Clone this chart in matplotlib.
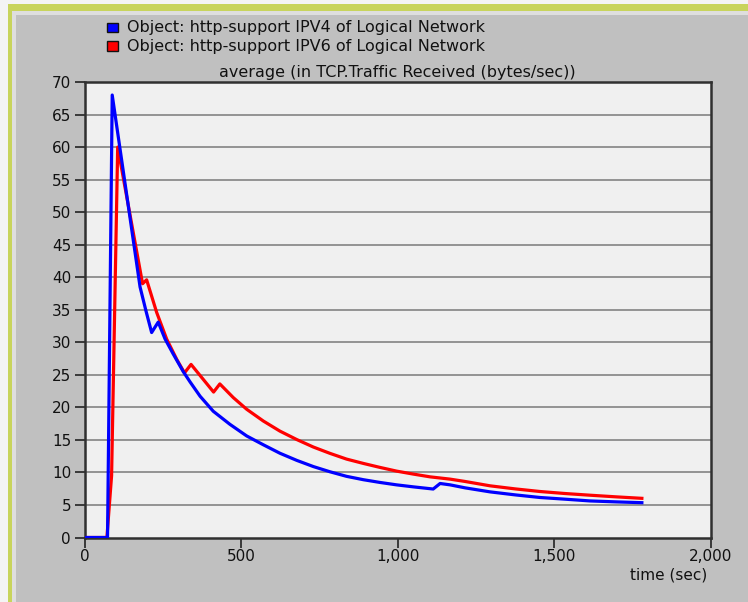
import matplotlib
matplotlib.use("Agg")
import matplotlib.pyplot as plt
from matplotlib.patches import Rectangle
from matplotlib.ticker import FuncFormatter

plt.rcParams['font.family'] = ['DejaVu Sans']

# ---- data ----
ipv4_time = [0, 72, 87, 176, 195, 213, 234, 256, 282, 314, 336, 368, 410, 463, 517,
             570, 623, 677, 730, 783, 836, 890, 943, 996, 1050, 1113, 1135, 1167,
             1215, 1295, 1375, 1454, 1534, 1614, 1700, 1780]
ipv4_value = [0, 0, 68, 38.5, 34.8, 31.5, 33.1, 30.5, 28.2, 25.5, 23.9, 21.7, 19.4, 17.4, 15.6,
              14.25, 12.95, 11.85, 10.9, 10.1, 9.4, 8.88, 8.46, 8.09, 7.78, 7.45, 8.3, 8.09,
              7.63, 7.01, 6.55, 6.15, 5.89, 5.62, 5.47, 5.35]

ipv6_time = [0, 70, 85, 104.5, 184, 197, 229, 261, 293, 318, 339, 411, 431, 474,
             517, 570, 623, 677, 730, 783, 836, 890, 943, 996, 1050, 1103, 1167,
             1215, 1295, 1375, 1454, 1534, 1614, 1700, 1780]
ipv6_value = [0, 0, 9.5, 60, 39.0, 39.6, 34.6, 30.5, 27.4, 25.3, 26.6, 22.35, 23.6, 21.5,
              19.7, 17.9, 16.35, 15.05, 13.9, 12.93, 12.05, 11.38, 10.77, 10.2, 9.74, 9.32, 8.97,
              8.61, 7.94, 7.47, 7.07, 6.76, 6.50, 6.24, 6.02]

series_labels = ["Object: http-support IPV4 of Logical Network",
                 "Object: http-support IPV6 of Logical Network"]
series_colors = ["#0000ff", "#ff0000"]
title_text = "average (in TCP.Traffic Received (bytes/sec))"
xlabel_text = "time (sec)"
x_ticks = [0, 500, 1000, 1500, 2000]
y_ticks = list(range(0, 71, 5))

W, H = 748, 602
fig = plt.figure(figsize=(W / 100, H / 100), dpi=100)
fig.patch.set_facecolor("#c0c0c0")

def fx(px): return px / W
def fy(py): return 1 - py / H

# window frame: white margin, yellow-green border, light inner strip
fig.patches.append(Rectangle((0, 0), 1, 1, transform=fig.transFigure,
                             facecolor="#f4f4f4", edgecolor="none", zorder=-3))
fig.patches.append(Rectangle((fx(8), 0), 1, fy(4), transform=fig.transFigure,
                             facecolor="#c8d45c", edgecolor="none", zorder=-2))
fig.patches.append(Rectangle((fx(12), 0), 1, fy(11), transform=fig.transFigure,
                             facecolor="#dedede", edgecolor="none", zorder=-1))
fig.patches.append(Rectangle((fx(16), 0), 1, fy(15), transform=fig.transFigure,
                             facecolor="#c0c0c0", edgecolor="none", zorder=0))

ax = fig.add_axes([fx(85), fy(537.5), fx(710.7) - fx(85), fy(82) - fy(537.5)])
ax.set_facecolor("#f0f0f0")
ax.set_zorder(2)

for y in y_ticks[1:-1]:
    ax.axhline(y, color="#8c8c8c", linewidth=1.3, zorder=1)

ax.plot(ipv6_time, ipv6_value, color=series_colors[1], linewidth=2.3, zorder=3)
ax.plot(ipv4_time, ipv4_value, color=series_colors[0], linewidth=2.3, zorder=4)

ax.set_xlim(0, 2000)
ax.set_ylim(0, 70)
ax.set_xticks(x_ticks)
ax.set_yticks(y_ticks)
ax.xaxis.set_major_formatter(FuncFormatter(lambda v, p: f"{int(v):,}"))
ax.tick_params(axis="both", direction="out", length=7, width=1.2, color="#222222",
               labelsize=11, labelcolor="#111111", pad=3)
ax.tick_params(axis="x", pad=1.5)
for s in ax.spines.values():
    s.set_color("#303030")
    s.set_linewidth(1.8)

fig.text(fx(397), fy(73), title_text, ha="center", va="center", fontsize=11.5, color="#111111")
fig.text(fx(707), fy(575), xlabel_text, ha="right", va="center", fontsize=11, color="#111111")

# legend
for i, (lab, col) in enumerate(zip(series_labels, series_colors)):
    yc = 27.5 + i * 18.5
    fig.patches.append(Rectangle((fx(107), fy(yc + 4.7)), fx(11), (9.4 / H),
                                 transform=fig.transFigure, facecolor=col,
                                 edgecolor="#111111", linewidth=1.0, zorder=5))
    fig.text(fx(127), fy(yc), lab, ha="left", va="center", fontsize=11.5, color="#111111")

fig.savefig("out.png", dpi=100, facecolor=fig.get_facecolor())
